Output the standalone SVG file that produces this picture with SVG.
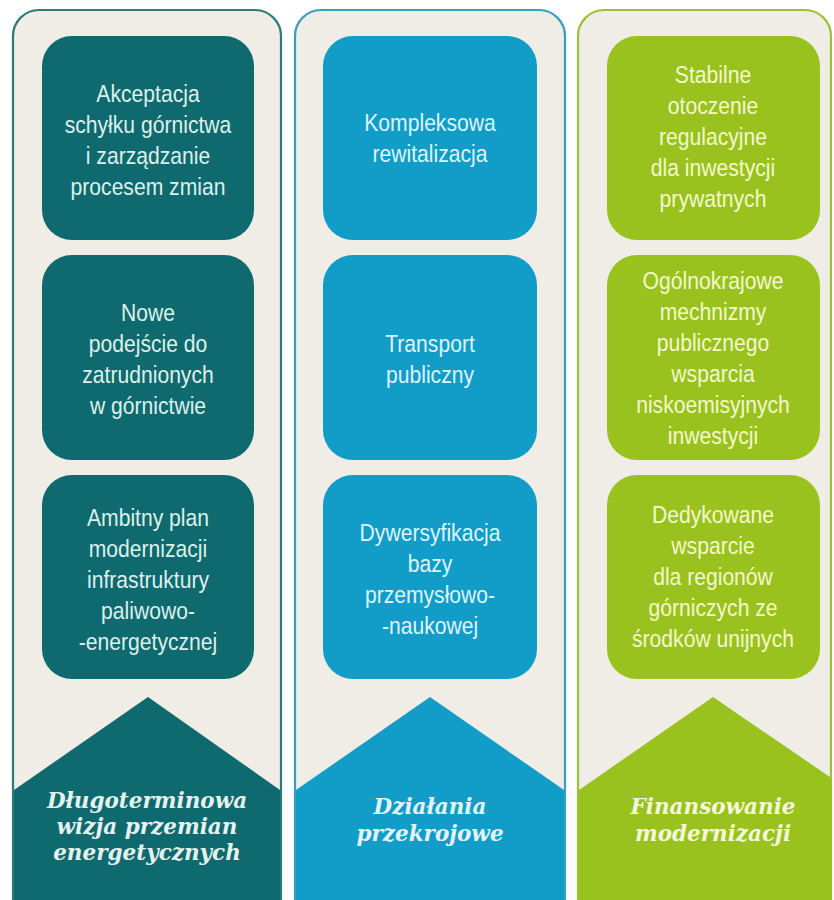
<svg xmlns="http://www.w3.org/2000/svg" width="834" height="900" viewBox="0 0 834 900">
<defs>
<style>
.panel{fill:#EFEDE6;stroke-width:2.2}
.t{font-family:"Liberation Sans","Arial",sans-serif;font-size:24px;text-anchor:middle}
.lab{font-family:"DejaVu Serif","Liberation Serif",serif;font-weight:bold;font-style:italic;font-size:21.5px;text-anchor:middle}
.c1{fill:#0E6A6E}.c2{fill:#129DC8}.c3{fill:#99C21E}
.tx1{fill:#DDF0EC}.tx2{fill:#DDF4FB}.tx3{fill:#F4F8CC}
</style>
<clipPath id="clip3"><rect x="578" y="0" width="253" height="900"/></clipPath>
</defs>
<rect width="834" height="900" fill="#FFFFFF"/>
<g id="col1">
<path class="panel" stroke="#2C7A7C" d="M13,901 V36 A26,26 0 0 1 39,10 H255 A26,26 0 0 1 281,36 V901"/>
<polygon class="c1" points="14,790 148,697 280,790 280,900 14,900"/>
<text class="lab" fill="#E4F1EE"><tspan x="147" y="808">Długoterminowa</tspan><tspan x="147" y="834">wizja przemian</tspan><tspan x="147" y="860">energetycznych</tspan></text>
</g>
<g id="col2">
<path class="panel" stroke="#3A9DC2" d="M295,901 V36 A26,26 0 0 1 321,10 H539 A26,26 0 0 1 565,36 V901"/>
<polygon class="c2" points="296,790 430,697 564,790 564,900 296,900"/>
<text class="lab" fill="#E2F4FA"><tspan x="430" y="814">Działania</tspan><tspan x="430" y="841">przekrojowe</tspan></text>
</g>
<g id="col3">
<path class="panel" stroke="#9CC139" d="M578,901 V36 A26,26 0 0 1 604,10 H805 A26,26 0 0 1 831,36 V901"/>
<polygon class="c3" clip-path="url(#clip3)" points="579,790 713,697 849,790 849,900 579,900"/>
<text class="lab" fill="#F4F8D8"><tspan x="713" y="814">Finansowanie</tspan><tspan x="713" y="841">modernizacji</tspan></text>
</g>
<g id="n1a"><rect class="c1" x="42" y="36" width="212" height="204" rx="30"/>
<text class="t tx1" transform="translate(148 0) scale(0.88 1)"><tspan x="0" y="102">Akceptacja</tspan><tspan x="0" y="133">schyłku górnictwa</tspan><tspan x="0" y="164">i zarządzanie</tspan><tspan x="0" y="195">procesem zmian</tspan></text></g>
<g id="n1b"><rect class="c1" x="42" y="255" width="212" height="205" rx="30"/>
<text class="t tx1" transform="translate(148 0) scale(0.88 1)"><tspan x="0" y="321">Nowe</tspan><tspan x="0" y="352">podejście do</tspan><tspan x="0" y="383">zatrudnionych</tspan><tspan x="0" y="414">w górnictwie</tspan></text></g>
<g id="n1c"><rect class="c1" x="42" y="475" width="212" height="204" rx="30"/>
<text class="t tx1" transform="translate(148 0) scale(0.88 1)"><tspan x="0" y="526">Ambitny plan</tspan><tspan x="0" y="557">modernizacji</tspan><tspan x="0" y="588">infrastruktury</tspan><tspan x="0" y="619">paliwowo-</tspan><tspan x="0" y="650">-energetycznej</tspan></text></g>
<g id="n2a"><rect class="c2" x="323" y="36" width="214" height="204" rx="30"/>
<text class="t tx2" transform="translate(430 0) scale(0.88 1)"><tspan x="0" y="131">Kompleksowa</tspan><tspan x="0" y="162">rewitalizacja</tspan></text></g>
<g id="n2b"><rect class="c2" x="323" y="255" width="214" height="205" rx="30"/>
<text class="t tx2" transform="translate(430 0) scale(0.88 1)"><tspan x="0" y="352">Transport</tspan><tspan x="0" y="383">publiczny</tspan></text></g>
<g id="n2c"><rect class="c2" x="323" y="475" width="214" height="204" rx="30"/>
<text class="t tx2" transform="translate(430 0) scale(0.88 1)"><tspan x="0" y="541">Dywersyfikacja</tspan><tspan x="0" y="572">bazy</tspan><tspan x="0" y="603">przemysłowo-</tspan><tspan x="0" y="634">-naukowej</tspan></text></g>
<g id="n3a"><rect class="c3" x="607" y="36" width="213" height="204" rx="30"/>
<text class="t tx3" transform="translate(713 0) scale(0.88 1)"><tspan x="0" y="83">Stabilne</tspan><tspan x="0" y="114">otoczenie</tspan><tspan x="0" y="145">regulacyjne</tspan><tspan x="0" y="176">dla inwestycji</tspan><tspan x="0" y="207">prywatnych</tspan></text></g>
<g id="n3b"><rect class="c3" x="607" y="255" width="213" height="205" rx="30"/>
<text class="t tx3" transform="translate(713 0) scale(0.88 1)"><tspan x="0" y="289">Ogólnokrajowe</tspan><tspan x="0" y="320">mechnizmy</tspan><tspan x="0" y="351">publicznego</tspan><tspan x="0" y="382">wsparcia</tspan><tspan x="0" y="413">niskoemisyjnych</tspan><tspan x="0" y="444">inwestycji</tspan></text></g>
<g id="n3c"><rect class="c3" x="607" y="475" width="213" height="204" rx="30"/>
<text class="t tx3" transform="translate(713 0) scale(0.88 1)"><tspan x="0" y="523">Dedykowane</tspan><tspan x="0" y="554">wsparcie</tspan><tspan x="0" y="585">dla regionów</tspan><tspan x="0" y="616">górniczych ze</tspan><tspan x="0" y="647">środków unijnych</tspan></text></g>
<g id="connectors"></g>
</svg>
